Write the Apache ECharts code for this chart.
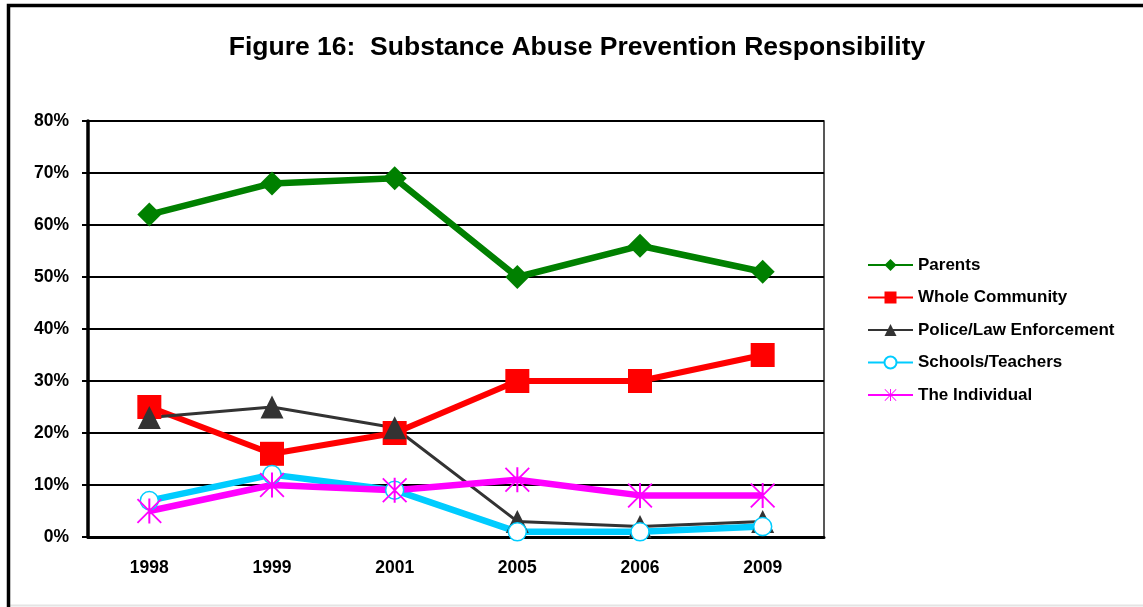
<!DOCTYPE html>
<html>
<head>
<meta charset="utf-8">
<title>Figure 16: Substance Abuse Prevention Responsibility</title>
<script src="https://cdn.jsdelivr.net/npm/echarts@6/dist/echarts.min.js"></script>
<style>
  html, body { margin: 0; padding: 0; background: #fff; }
  #chart { width: 1143px; height: 607px; }
</style>
</head>
<body>
<div id="chart"></div>
<script>
// Survey years
const years = ['1998', '1999', '2001', '2005', '2006', '2009'];

// Percent of respondents naming each group as responsible
const parents = [62, 68, 69, 50, 56, 51];
const wholeCommunity = [25, 16, 20, 30, 30, 35];
const police = [23, 25, 21, 3, 2, 3];
const schools = [7, 12, 9, 1, 1, 2];
const individual = [5, 10, 9, 11, 8, 8];

// Y axis range and step (percent)
const yMin = 0, yMax = 80, yStep = 10;

// Asterisk marker: one vertical bar and two diagonals, same winding
const asterisk = 'path://M46 0L54 0L54 100L46 100Z' +
  'M0 5L5 0L100 95L95 100Z' +
  'M95 0L100 5L5 100L0 95Z';

const font = 'Arial, "Liberation Sans", sans-serif';

function lineSeries(name, data, color, width, symbol, size, extra) {
  return Object.assign({
    name: name,
    type: 'line',
    data: data,
    symbol: symbol,
    symbolSize: size,
    showAllSymbol: true,
    lineStyle: { color: color, width: width },
    itemStyle: { color: color },
    emphasis: { disabled: true },
    z: 3
  }, extra || {});
}

const chart = echarts.init(document.getElementById('chart'), null, { renderer: 'canvas' });

chart.setOption({
  animation: false,
  backgroundColor: '#fff',
  title: {
    text: 'Figure 16:  Substance Abuse Prevention Responsibility',
    left: 572,
    textAlign: 'center',
    top: 29,
    textStyle: { fontFamily: font, fontSize: 26.5, fontWeight: 'bold', color: '#000' }
  },
  graphic: [
    // outer frame of the figure
    { type: 'rect', shape: { x: 8.5, y: 5.5, width: 1150, height: 620 },
      style: { fill: 'none', stroke: '#000', lineWidth: 3.5 }, z: 10 },
    { type: 'line', shape: { x1: 10, y1: 605.5, x2: 1143, y2: 605.5 },
      style: { stroke: '#e4e4e4', lineWidth: 2 }, z: 9 }
  ],
  legend: {
    orient: 'vertical',
    left: 867,
    top: 256.5,
    padding: 0,
    itemWidth: 45,
    itemHeight: 15,
    itemGap: 15.5,
    textStyle: { fontFamily: font, fontSize: 17, lineHeight: 15, fontWeight: 'bold', color: '#000' },
    lineStyle: { width: 2 },
    data: ['Parents', 'Whole Community', 'Police/Law Enforcement', 'Schools/Teachers', 'The Individual']
  },
  grid: {
    left: 88,
    top: 121,
    right: 319,
    bottom: 70,
    show: true,
    borderColor: '#222',
    borderWidth: 1.5,
    containLabel: false
  },
  xAxis: {
    type: 'category',
    data: years,
    boundaryGap: true,
    axisLine: { show: true, lineStyle: { color: '#000', width: 3 } },
    axisTick: { show: false },
    axisLabel: { margin: 22, fontFamily: font, fontSize: 17.5, fontWeight: 'bold', color: '#000' },
    splitLine: { show: false }
  },
  yAxis: {
    type: 'value',
    min: yMin,
    max: yMax,
    interval: yStep,
    axisLine: { show: true, lineStyle: { color: '#000', width: 3.5 } },
    axisTick: { show: true, length: 6, lineStyle: { color: '#000', width: 2 } },
    axisLabel: {
      margin: 19,
      fontFamily: font, fontSize: 17.5, fontWeight: 'bold', color: '#000',
      formatter: v => v + '%'
    },
    splitLine: { show: true, lineStyle: { color: '#000', width: 2 } }
  },
  series: [
    lineSeries('Parents', parents, '#008000', 6.5, 'diamond', 24),
    lineSeries('Whole Community', wholeCommunity, '#ff0000', 6, 'rect', 24),
    lineSeries('Police/Law Enforcement', police, '#333333', 3, 'triangle', 23),
    lineSeries('Schools/Teachers', schools, '#00ccff', 6.5, 'circle', 18, {
      itemStyle: { color: '#fff', borderColor: '#00ccff', borderWidth: 1.5 }
    }),
    lineSeries('The Individual', individual, '#ff00ff', 6.5, asterisk, 25)
  ]
});
</script>
</body>
</html>
